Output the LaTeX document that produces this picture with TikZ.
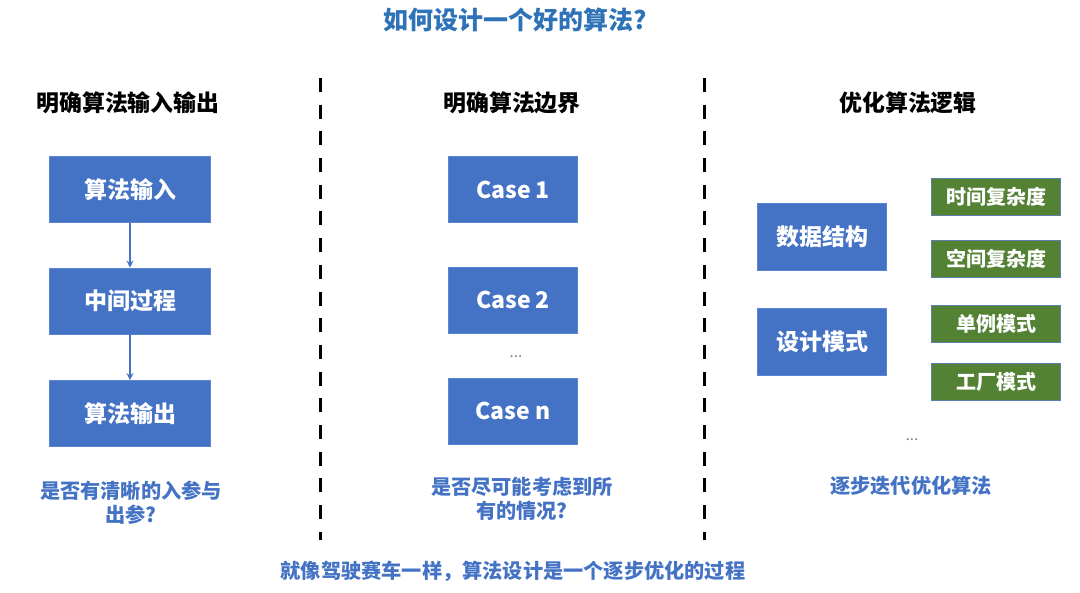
\documentclass[tikz,border=0pt]{standalone}
\usepackage{fontspec}
\setmainfont{Noto Sans CJK SC}
\usetikzlibrary{arrows.meta}
\definecolor{boxblue}{HTML}{4472C4}
\definecolor{boxedge}{HTML}{5B86CF}
\definecolor{titleblue}{HTML}{2E72B8}
\definecolor{capblue}{HTML}{4472C4}
\definecolor{boxgreen}{HTML}{548235}
\definecolor{greenedge}{HTML}{5A7FA8}
\begin{document}
\begin{tikzpicture}[x=1pt,y=-1pt,
  bluebox/.style={fill=boxblue, draw=boxedge, line width=0.6pt, text=white,
    font=\bfseries\fontsize{23}{27}\selectfont, minimum height=66pt, inner sep=0pt},
  greenbox/.style={fill=boxgreen, draw=greenedge, line width=0.8pt, text=white,
    font=\bfseries\fontsize{20}{24}\selectfont, minimum width=129pt, minimum height=37pt, inner sep=0pt},
  header/.style={font=\bfseries\fontsize{22.9}{27}\selectfont, text=black, inner sep=0pt},
  caption/.style={font=\bfseries\fontsize{20.2}{24}\selectfont, text=capblue, align=center, inner sep=0pt},
  dots/.style={font=\fontsize{15}{16}\selectfont, text=gray, inner sep=0pt},
  divider/.style={line width=3pt, dash pattern=on 14pt off 12.7pt},
  arr/.style={draw=boxblue, line width=1.6pt, -{Stealth[length=7pt,width=7pt]}}
]
\useasboundingbox (0,0) rectangle (1080,593);

\node[font=\bfseries\fontsize{25}{29}\selectfont, text=titleblue, inner sep=0pt] (title) at (515,20) {如何设计一个好的算法?};

% dividers
\coordinate (d1t) at (320,78);
\coordinate (d1b) at (320,540);
\coordinate (d2t) at (704,78);
\coordinate (d2b) at (704,540);
\draw[divider] (d1t) -- (d1b);
\draw[divider] (d2t) -- (d2b);

% column 1
\node[header] (h1) at (128,103) {明确算法输入输出};
\node[bluebox, minimum width=161pt] (in) at (130,189.5) {算法输入};
\node[bluebox, minimum width=161pt] (mid) at (130,301) {中间过程};
\node[bluebox, minimum width=161pt] (out) at (130,413.5) {算法输出};
\draw[arr] (in.south) -- (mid.north);
\draw[arr] (mid.south) -- (out.north);
\node[caption] (c1) at (131,503) {是否有清晰的入参与\\出参?};

% column 2
\node[header] (h2) at (512,103) {明确算法边界};
\node[bluebox, minimum width=129pt] (case1) at (513,189.5) {Case 1};
\node[bluebox, minimum width=129pt] (case2) at (513,300) {Case 2};
\node[dots] (dots2) at (516,357) {...};
\node[bluebox, minimum width=129pt] (casen) at (513,411) {Case n};
\node[caption] (c2) at (522,499) {是否尽可能考虑到所\\有的情况?};

% column 3
\node[header] (h3) at (908,103) {优化算法逻辑};
\node[bluebox, minimum width=129pt, minimum height=67pt] (ds) at (822,236.5) {数据结构};
\node[bluebox, minimum width=129pt, minimum height=67pt] (dp) at (822,342) {设计模式};
\node[greenbox] (g1) at (996,197) {时间复杂度};
\node[greenbox] (g2) at (996,258.5) {空间复杂度};
\node[greenbox] (g3) at (996,323.5) {单例模式};
\node[greenbox] (g4) at (996,382) {工厂模式};
\node[dots] (dots3) at (912,440) {...};
\node[caption] (c3) at (911,486) {逐步迭代优化算法};

% bottom
\node[caption] (bottom) at (513,571) {就像驾驶赛车一样，算法设计是一个逐步优化的过程};
\end{tikzpicture}
\end{document}
